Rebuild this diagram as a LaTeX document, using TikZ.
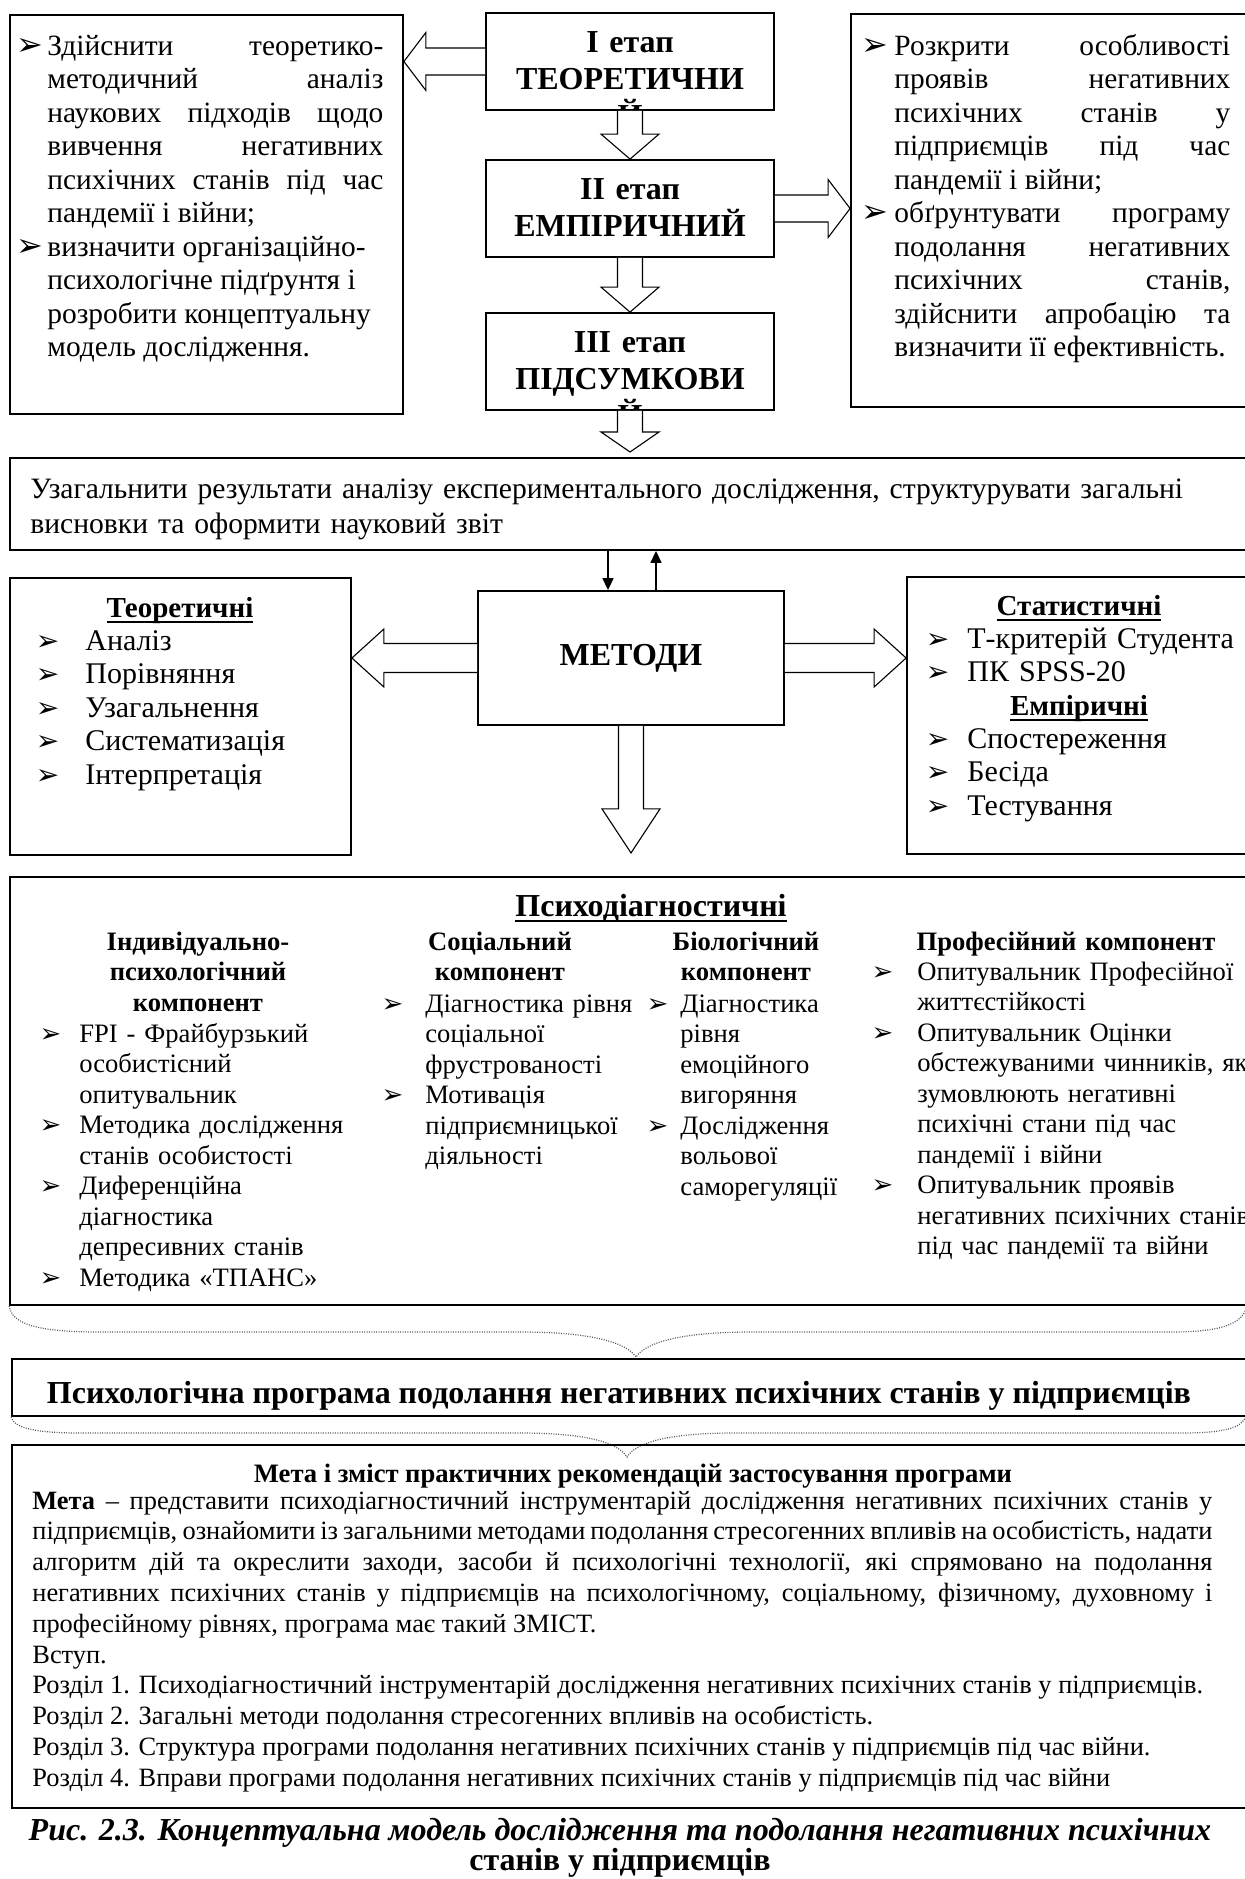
\documentclass[tikz,border=0pt]{standalone}
\usepackage{fontspec}
\setmainfont{Liberation Serif}
\newfontfamily\bulfont{DejaVu Sans}
\usetikzlibrary{arrows.meta, calc, fit, positioning}

% bullet hung to the left of a line: size, gap
\newcommand{\bul}[2]{\leavevmode\llap{{\bulfont\fontsize{#1}{#1}\selectfont ➢}\hspace{#2}}}
% bold heading with a heavy underline
\newcommand{\ulhead}[1]{\setbox0\hbox{\bfseries #1}\rlap{\rule[-3pt]{\wd0}{1pt}}\box0}
% hollow block arrow: from, to, shaft half width, head half width, head length
\newcommand{\blockarrow}[5]{%
  \coordinate (hb) at ($(#2)!#5!(#1)$);
  \filldraw[blockstyle] ($(#1)!#3!90:(#2)$) -- ($(hb)!#3!90:(#2)$) -- ($(hb)!#4!90:(#2)$) -- (#2)
    -- ($(hb)!#4!-90:(#2)$) -- ($(hb)!#3!-90:(#2)$) -- ($(#1)!#3!-90:(#2)$);
}

\begin{document}
\begin{tikzpicture}[
            x = 0.5pt, y = -0.5pt, % pixel grid, y downwards
            > = {Triangle[length=6pt, width=5.5pt]}, % arrow head style
            line join = miter,
        ]
 \tikzstyle{box}=[draw, line width=0.9pt, inner sep=0pt]
 \tikzstyle{blockstyle}=[draw, fill=white, line width=0.55pt]
 \tikzstyle{thinarrow}=[->, line width=0.8pt]
 \tikzstyle{txt}=[inner sep=0pt, anchor=base west, align=justify]
 \tikzstyle{head}=[inner sep=0pt, anchor=base]
 \tikzstyle{stagetext}=[inner sep=0pt, anchor=base, text width=144pt, align=center,
            font=\fontsize{16}{18.5}\selectfont\bfseries]
 \tikzstyle{colhead}=[inner sep=0pt, anchor=base, align=center, text width=150pt,
            font=\fontsize{13.3}{15.25}\selectfont\bfseries]
 \tikzstyle{collist}=[txt, align=left, font=\fontsize{13.3}{15.25}\selectfont]
 \tikzstyle{brace}=[line width=0.6pt, gray!70!black, dash pattern=on 0.5pt off 0.7pt]

\useasboundingbox (0,0) rectangle (1245,1879);

% stages
\node[box, fit={(10,15) (403,414)}] (lbox) {};
\node[box, fit={(486,13) (774,110)}] (st1) {};
\node[box, fit={(486,160) (774,257)}] (st2) {};
\node[box, fit={(486,313) (774,410)}] (st3) {};
\node[box, fit={(851,14) (1262,407)}] (rbox) {};

\begin{scope}
 \clip (st1.north west) rectangle (st1.south east);
 \node[stagetext] (st1txt) at ($(st1.north)+(0,40)$) {І етап\\ТЕОРЕТИЧНИ\\Й};
\end{scope}
\node[stagetext] (st2txt) at ($(st2.north)+(0,40)$) {ІІ етап\\ЕМПІРИЧНИЙ};
\begin{scope}
 \clip (st3.north west) rectangle (st3.south east);
 \node[stagetext] (st3txt) at ($(st3.north)+(0,40)$) {ІІІ етап\\ПІДСУМКОВИ\\Й};
\end{scope}

\node[txt, text width=168pt, font=\fontsize{14.7}{16.75}\selectfont] (ltxt) at (47,55)
 {\bul{16}{2pt}Здійснити теоретико-\linebreak методичний аналіз\linebreak наукових підходів щодо\linebreak
  вивчення негативних\linebreak психічних станів під час\linebreak пандемії і війни;\\
  \bul{16}{2pt}визначити організаційно-\\психологічне підґрунтя і\\розробити концептуальну\\модель дослідження.};
\node[txt, text width=168pt, font=\fontsize{14.7}{16.75}\selectfont] (rtxt) at (894,55)
 {\bul{16}{3pt}Розкрити особливості\linebreak проявів негативних\linebreak психічних станів у\linebreak
  підприємців під час\linebreak пандемії і війни;\\
  \bul{16}{3pt}обґрунтувати програму\linebreak подолання негативних\linebreak психічних станів,\linebreak
  здійснити апробацію та\linebreak визначити її ефективність.};

\coordinate (ltip) at (st1.west -| lbox.east);
\coordinate (rtip) at (st2.east -| rbox.west);
\coordinate (st3tip) at ($(st3.south |- 0,458)+(0,-6)$);
\blockarrow{st1.west}{ltip}{6.75pt}{14.5pt}{11pt}
\blockarrow{st2.east}{rtip}{6.75pt}{14.5pt}{11pt}
\blockarrow{st1.south}{st2.north}{6.25pt}{14.5pt}{12.5pt}
\blockarrow{st2.south}{st3.north}{6.25pt}{14.5pt}{12.5pt}
\blockarrow{st3.south}{st3tip}{6.25pt}{14.5pt}{10pt}

% summary
\node[box, fit={(10,458) (1262,550)}] (ugen) {};
\node[txt, text width=600pt, align=left, font=\fontsize{14.8}{17.5}\selectfont] (ugentxt) at (30,498)
 {Узагальнити результати аналізу експериментального дослідження, структурувати загальні\\висновки та оформити науковий звіт};

% methods
\node[box, fit={(10,578) (351,855)}] (tbox) {};
\node[box, fit={(478,591) (784,725)}] (met) {};
\node[box, fit={(907,577) (1262,854)}] (sbox) {};
\node[font=\fontsize{16}{19}\selectfont\bfseries] (mettxt) at (met.center) {МЕТОДИ};

\coordinate (downtop) at ($(met.north)+(-23,0)$);
\coordinate (upbot) at ($(met.north)+(25,0)$);
\draw[thinarrow] (downtop |- ugen.south) -- (downtop);
\draw[thinarrow] (upbot) -- (upbot |- ugen.south);

\node[head, font=\fontsize{14.5}{16.75}\selectfont] (thead) at (180,617) {\ulhead{Теоретичні}};
\node[txt, align=left, text width=125pt, font=\fontsize{15}{16.75}\selectfont] (tlist) at (85,650)
 {\bul{14}{13pt}Аналіз\\\bul{14}{13pt}Порівняння\\\bul{14}{13pt}Узагальнення\\\bul{14}{13pt}Систематизація\\\bul{14}{13pt}Інтерпретація};
\node[head, font=\fontsize{14.5}{16.75}\selectfont] (shead) at (1079,615) {\ulhead{Статистичні}};
\node[txt, align=left, text width=150pt, font=\fontsize{15}{16.75}\selectfont] (slist) at (967,648)
 {\bul{14}{9pt}Т-критерій Студента\\\bul{14}{9pt}ПК SPSS-20};
\node[head, font=\fontsize{14.5}{16.75}\selectfont] (ehead) at (1079,715) {\ulhead{Емпіричні}};
\node[txt, align=left, text width=150pt, font=\fontsize{15}{16.75}\selectfont] (elist) at (967,748)
 {\bul{14}{9pt}Спостереження\\\bul{14}{9pt}Бесіда\\\bul{14}{9pt}Тестування};

\coordinate (tleft) at (met.west -| tbox.east);
\coordinate (sright) at (met.east -| sbox.west);
\coordinate (metdown) at ($(met.south)+(0,127)$);
\blockarrow{met.west}{tleft}{7.25pt}{14.5pt}{16pt}
\blockarrow{met.east}{sright}{7.25pt}{14.5pt}{16pt}
\blockarrow{met.south}{metdown}{6.25pt}{14.5pt}{22pt}

% psychodiagnostics
\node[box, fit={(10,877) (1262,1305)}] (pbox) {};
\node[head, font=\fontsize{16}{19}\selectfont] (phead) at (651,916) {\ulhead{Психодіагностичні}};
\node[colhead] (c1head) at (198,950) {Індивідуально-\\психологічний\\компонент};
\node[collist, text width=150pt] (c1list) at (79,1042)
 {\bul{13}{9pt}FPI - Фрайбурзький\\особистісний\\опитувальник\\\bul{13}{9pt}Методика дослідження\\станів особистості\\
  \bul{13}{9pt}Диференційна\\діагностика\\депресивних станів\\\bul{13}{9pt}Методика «ТПАНС»};
\node[colhead] (c2head) at (500,950) {Соціальний\\компонент};
\node[collist, text width=120pt] (c2list) at (425,1012)
 {\bul{13}{11pt}Діагностика рівня\\соціальної\\фрустрованості\\\bul{13}{11pt}Мотивація\\підприємницької\\діяльності};
\node[colhead] (c3head) at (746,950) {Біологічний\\компонент};
\node[collist, text width=95pt] (c3list) at (680,1012)
 {\bul{13}{6pt}Діагностика\\рівня\\емоційного\\вигоряння\\\bul{13}{6pt}Дослідження\\вольової\\саморегуляції};
\node[colhead, text width=200pt] (c4head) at (1066,950) {Професійний компонент};
\node[collist, text width=200pt] (c4list) at (917,980)
 {\bul{13}{12pt}Опитувальник Професійної\\життєстійкості\\\bul{13}{12pt}Опитувальник Оцінки\\обстежуваними чинників, які\\
  зумовлюють негативні\\психічні стани під час\\пандемії і війни\\\bul{13}{12pt}Опитувальник проявів\\
  негативних психічних станів\\під час пандемії та війни};

\draw[brace] (pbox.south west) .. controls (12,1325) and (40,1332) .. (100,1332) -- (520,1332)
 .. controls (590,1332) and (626,1342) .. (636,1357) .. controls (646,1342) and (682,1332) .. (752,1332)
 -- (1170,1332) .. controls (1228,1332) and (1244,1322) .. (1248,1303);

% programme
\node[box, fit={(12,1359) (1262,1416)}] (prog) {};
\node[head, font=\fontsize{16}{19}\selectfont\bfseries] (progtxt) at (619,1403)
 {Психологічна програма подолання негативних психічних станів у підприємців};

\draw[brace] (prog.south west) .. controls (14,1428) and (35,1433) .. (80,1433) -- (520,1433)
 .. controls (585,1433) and (618,1442) .. (627,1457) .. controls (636,1442) and (670,1433) .. (734,1433)
 -- (1180,1433) .. controls (1225,1433) and (1242,1428) .. (1246,1416);

\node[box, fit={(12,1445) (1262,1808)}] (mbox) {};
\node[head, font=\fontsize{13.3}{15.4}\selectfont\bfseries] (mhead) at (633,1482)
 {Мета і зміст практичних рекомендацій застосування програми};
\node[txt, text width=590pt, font=\fontsize{13.2}{15.4}\selectfont] (mtxt) at (32,1509)
 {\textbf{Мета} – представити психодіагностичний інструментарій дослідження негативних психічних станів у\linebreak
  підприємців, ознайомити із загальними методами подолання стресогенних впливів на особистість, надати\linebreak
  алгоритм дій та окреслити заходи, засоби й психологічні технології, які спрямовано на подолання\linebreak
  негативних психічних станів у підприємців на психологічному, соціальному, фізичному, духовному і\linebreak
  професійному рівнях, програма має такий ЗМІСТ.\\
  Вступ.\\
  Розділ 1. Психодіагностичний інструментарій дослідження негативних психічних станів у підприємців.\\
  Розділ 2. Загальні методи подолання стресогенних впливів на особистість.\\
  Розділ 3. Структура програми подолання негативних психічних станів у підприємців під час війни.\\
  Розділ 4. Вправи програми подолання негативних психічних станів у підприємців під час війни};

% caption
\node[head, font=\fontsize{16}{15}\selectfont\bfseries\itshape] (cap1) at (620,1840)
 {Рис. 2.3. Концептуальна модель дослідження та подолання негативних психічних};
\node[head, font=\fontsize{16}{15}\selectfont\bfseries] (cap2) at (620,1870) {станів у підприємців};
\end{tikzpicture}
\end{document}
